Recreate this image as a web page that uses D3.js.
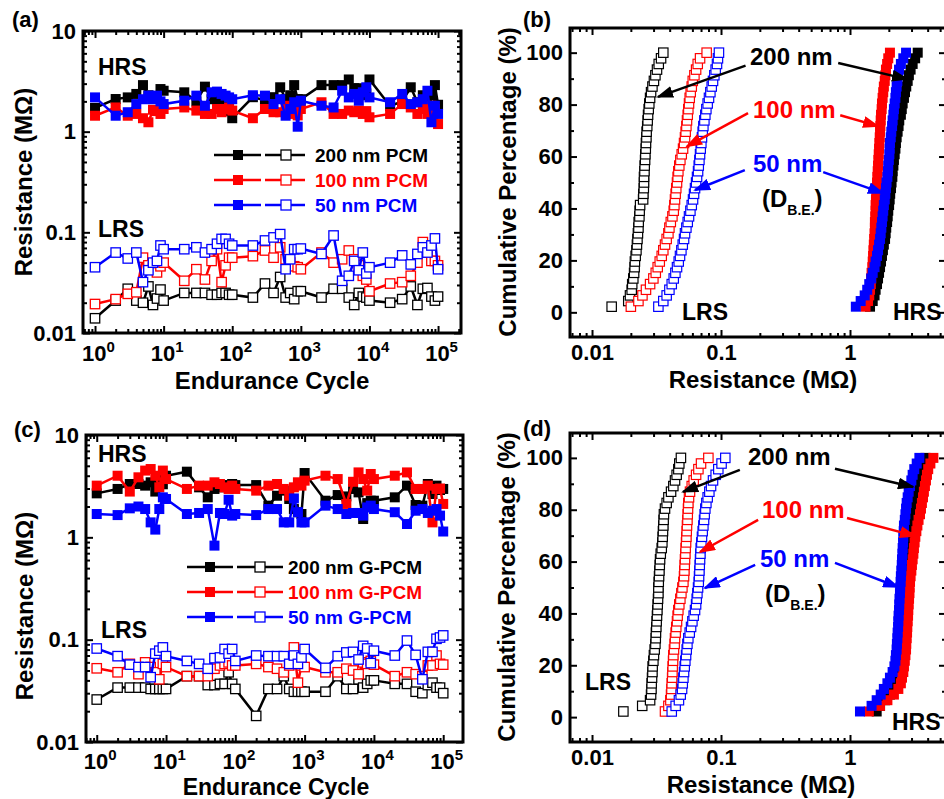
<!DOCTYPE html>
<html>
<head>
<meta charset="utf-8">
<script src="https://cdn.jsdelivr.net/npm/d3@7"></script>
<style>
  body { margin: 0; background: #fff; }
  svg text { font-family: "Liberation Sans", Arial, Helvetica, sans-serif; font-weight: bold; }
</style>
</head>
<body>
<div id="chart"></div>
<script>
// endurance cycles, x of panels (a) and (c)
var cycles = [1,2,3,4,5,6,7,8,9,10,20,30,40,50,60,70,80,90,100,200,300,400,500,600,700,800,900,1000,
  2000,3000,4000,5000,6000,7000,8000,9000,1e4,2e4,3e4,4e4,5e4,6e4,7e4,8e4,9e4,1e5];

// (a) PCM endurance, resistance in MOhm
var pcm200Hrs = [1.72,2.11,2.19,2.37,2.9,2.3,2.2,2.25,2.65,2.55, 2.46,2.0,2.8,2.1,2.05,1.9,1.75,1.6,1.36,
  2.2,2.05,2.2,2.76,2.1,2.3,2.9,2.1,2.1, 2.9,2.9,2.9,3.3,2.7,2.7,2.3,2.4,3.3, 1.8,2.0,2.76,1.96,2.3,2.0,2.3,2.9,1.85];
var pcm100Hrs = [1.44,1.74,1.44,1.5,1.36,1.24,1.65,1.6,1.5,1.68, 1.74,1.62,1.5,1.5,1.68,1.56,1.68,1.74,1.62,
  1.36,1.68,1.56,1.56,1.81,1.5,1.74,1.45,1.68, 1.96,1.5,1.5,1.62,1.56,1.62,1.5,1.6,1.39, 1.5,1.88,1.74,1.5,1.68,1.5,1.81,1.68,1.19];
var pcm50Hrs = [2.19,1.44,1.56,1.88,2.1,2.28,2.1,2.28,2.0,1.88, 2.03,2.28,1.81,2.46,2.5,2.37,2.28,2.19,2.1,
  2.3,2.28,1.88,2.1,1.44,1.68,1.96,1.12,2.03, 1.81,1.74,2.55,2.19,2.37,2.03,2.46,2.76,2.19, 1.96,2.37,1.88,1.96,2.1,2.55,1.24,1.81,1.5];
var pcm200Lrs = [0.014,0.021,0.0275,0.021,0.02,0.029,0.019,0.022,0.027,0.021, 0.025,0.025,0.025,0.024,0.024,0.025,0.025,0.024,0.024,
  0.0225,0.031,0.025,0.036,0.0225,0.025,0.0217,0.026,0.026, 0.0225,0.0275,0.0275,0.0225,0.019,0.025,0.023,0.0225,0.021,
  0.02,0.0217,0.029,0.019,0.0275,0.028,0.023,0.021,0.023];
var pcm100Lrs = [0.0194,0.0217,0.0245,0.0254,0.056,0.047,0.045,0.04,0.046,0.05, 0.033,0.043,0.034,0.052,0.068,0.032,0.047,0.056,0.056,
  0.058,0.066,0.056,0.071,0.054,0.05,0.046,0.045,0.043, 0.063,0.05,0.054,0.066,0.054,0.047,0.037,0.034,0.026,
  0.031,0.032,0.037,0.05,0.08,0.063,0.052,0.052,0.047];
var pcm50Lrs = [0.045,0.063,0.055,0.063,0.032,0.042,0.05,0.052,0.074,0.068, 0.068,0.071,0.063,0.068,0.077,0.086,0.086,0.077,0.074,
  0.074,0.083,0.089,0.096,0.043,0.054,0.068,0.068,0.069, 0.061,0.093,0.033,0.037,0.052,0.042,0.063,0.039,0.045,
  0.05,0.059,0.048,0.061,0.071,0.063,0.074,0.087,0.043];

// (c) G-PCM endurance
var gpcm200Hrs = [2.69,2.97,3.32,3.32,3.2,3.45,2.8,3.71,3.3,4.0, 4.38,3.08,2.46,2.97,3.08,3.2,3.24,3.32,3.24,
  3.24,2.04,2.55,2.86,2.37,1.89,1.76,1.69,4.25, 2.28,2.59,2.51,2.97,2.75,1.51,2.16,2.28,2.28, 2.46,3.2,2.07,2.04,3.32,2.65,3.2,2.9,2.97];
var gpcm100Hrs = [3.2,4.0,2.8,3.86,4.49,4.65,4.0,3.08,4.49,3.71, 2.97,3.2,3.2,3.45,3.32,3.08,2.97,3.2,2.97,
  2.86,3.2,3.32,2.97,2.55,3.08,3.45,3.2,3.58, 4.0,3.71,2.12,3.49,4.31,3.71,2.86,4.16,3.71, 4.0,4.31,2.97,2.97,3.2,1.4,2.97,3.0,2.12];
var gpcm50Hrs = [1.69,1.65,1.92,2.0,1.89,1.4,1.19,1.89,2.46,2.37, 1.69,1.73,1.89,0.83,1.73,1.69,2.33,1.63,1.69,
  1.65,1.89,1.89,1.4,1.4,2.4,1.76,1.4,1.4, 2.04,1.89,1.69,1.73,1.73,1.63,1.96,2.04,1.89, 1.76,1.35,1.82,1.89,1.73,1.82,1.89,1.63,1.14];
var gpcm200Lrs = [0.026,0.034,0.034,0.034,0.034,0.033,0.033,0.033,0.033,0.033, 0.044,0.044,0.036,0.036,0.037,0.037,0.048,0.037,0.033,
  0.018,0.033,0.033,0.044,0.033,0.031,0.031,0.031,0.031, 0.031,0.044,0.033,0.033,0.041,0.034,0.037,0.04,0.04,
  0.037,0.037,0.031,0.03,0.036,0.038,0.034,0.034,0.03];
var gpcm100Lrs = [0.0525,0.048,0.058,0.046,0.06,0.054,0.048,0.041,0.058,0.054, 0.044,0.044,0.044,0.052,0.056,0.058,0.06,0.056,0.056,
  0.058,0.054,0.052,0.048,0.056,0.084,0.038,0.056,0.054, 0.048,0.048,0.052,0.05,0.046,0.06,0.058,0.062,0.057,
  0.044,0.048,0.046,0.044,0.056,0.056,0.07,0.058,0.057];
var gpcm50Lrs = [0.082,0.069,0.057,0.054,0.054,0.043,0.073,0.078,0.084,0.069, 0.062,0.058,0.052,0.066,0.067,0.081,0.073,0.081,0.062,
  0.07,0.069,0.069,0.069,0.058,0.07,0.058,0.067,0.081, 0.053,0.069,0.075,0.076,0.064,0.087,0.082,0.059,0.078,
  0.07,0.098,0.071,0.041,0.076,0.076,0.102,0.105,0.11];

// (b) cumulative distributions, sorted resistance (MOhm)
var cdfB200Lrs = [0.0142,0.0191,0.0197,0.0203,0.0205,0.0209,0.0212,0.0214,0.0215,0.0218,0.0221,0.0223,0.0225,0.0227,0.0229,0.0230,
  0.0233,0.0234,0.0236,0.0249,0.0250,0.0252,0.0253,0.0253,0.0255,0.0256,0.0258,0.0259,0.0261,0.0262,0.0264,0.0265,0.0268,0.0270,
  0.0272,0.0275,0.0278,0.0282,0.0287,0.0294,0.0302,0.0310,0.0319,0.0329,0.0343,0.0357];
var cdfB100Lrs = [0.0200,0.0229,0.0246,0.0262,0.0282,0.0299,0.0312,0.0323,0.0335,0.0347,0.0357,0.0368,0.0379,0.0391,0.0398,0.0408,
  0.0420,0.0430,0.0435,0.0440,0.0445,0.0450,0.0456,0.0461,0.0467,0.0475,0.0484,0.0496,0.0508,0.0517,0.0526,0.0532,0.0539,0.0545,
  0.0552,0.0558,0.0565,0.0572,0.0582,0.0593,0.0604,0.0622,0.0641,0.0660,0.0688,0.0774];
var cdfB50Lrs = [0.0327,0.0357,0.0379,0.0398,0.0415,0.0430,0.0443,0.0456,0.0470,0.0481,0.0493,0.0505,0.0517,0.0526,0.0539,0.0552,
  0.0565,0.0579,0.0593,0.0607,0.0618,0.0629,0.0641,0.0652,0.0664,0.0672,0.0680,0.0688,0.0696,0.0704,0.0712,0.0721,0.0730,0.0743,
  0.0756,0.0770,0.0788,0.0807,0.0827,0.0847,0.0867,0.0888,0.0909,0.0931,0.0947,0.0964];
var cdfB200Hrs = [1.43,1.50,1.55,1.58,1.62,1.65,1.68,1.71,1.74,1.77,1.80,1.83,1.87,1.89,1.91,1.94,1.96,1.98,2.01,2.03,2.05,2.08,
  2.10,2.13,2.14,2.17,2.19,2.22,2.25,2.27,2.30,2.34,2.38,2.41,2.48,2.52,2.56,2.62,2.67,2.73,2.80,2.86,2.95,3.06,3.2,3.35];
var cdfB100Hrs = [1.32,1.38,1.41,1.43,1.45,1.46,1.47,1.49,1.50,1.51,1.52,1.53,1.54,1.55,1.56,1.56,1.57,1.58,1.58,1.59,1.60,1.61,
  1.62,1.63,1.64,1.65,1.66,1.67,1.68,1.69,1.70,1.71,1.72,1.73,1.74,1.76,1.77,1.79,1.81,1.83,1.86,1.88,1.90,1.94,1.98,2.04];
var cdfB50Hrs = [1.11,1.21,1.30,1.36,1.41,1.46,1.50,1.55,1.58,1.62,1.65,1.68,1.71,1.73,1.75,1.77,1.79,1.81,1.83,1.86,1.88,1.90,
  1.92,1.95,1.97,1.98,2.00,2.02,2.03,2.04,2.07,2.09,2.12,2.14,2.17,2.19,2.22,2.25,2.27,2.30,2.33,2.36,2.40,2.48,2.59,2.72];

// (d) cumulative distributions
var cdfD200Lrs = [0.0175,0.0245,0.0282,0.0287,0.0289,0.0290,0.0292,0.0294,0.0295,0.0299,0.0302,0.0306,0.0310,0.0312,0.0313,0.0315,
  0.0317,0.0319,0.0321,0.0323,0.0325,0.0327,0.0327,0.0329,0.0331,0.0333,0.0335,0.0337,0.0341,0.0347,0.0351,0.0353,0.0355,0.0357,
  0.0359,0.0361,0.0368,0.0379,0.0391,0.0410,0.0427,0.0440,0.0453,0.0467,0.0475,0.0489];
var cdfD100Lrs = [0.0368,0.0391,0.0405,0.0410,0.0413,0.0415,0.0418,0.0420,0.0422,0.0425,0.0427,0.0432,0.0437,0.0440,0.0445,0.0450,
  0.0456,0.0461,0.0467,0.0475,0.0484,0.0493,0.0502,0.0511,0.0517,0.0520,0.0523,0.0526,0.0529,0.0532,0.0536,0.0539,0.0542,0.0545,
  0.0549,0.0552,0.0555,0.0558,0.0565,0.0575,0.0593,0.0614,0.0641,0.0668,0.0700,0.0798];
var cdfD50Lrs = [0.0415,0.0445,0.0472,0.0487,0.0499,0.0505,0.0511,0.0517,0.0523,0.0529,0.0536,0.0542,0.0549,0.0558,0.0572,0.0586,
  0.0600,0.0614,0.0629,0.0641,0.0648,0.0656,0.0664,0.0672,0.0676,0.0680,0.0684,0.0688,0.0692,0.0696,0.0704,0.0712,0.0721,0.0730,
  0.0739,0.0747,0.0756,0.0770,0.0788,0.0812,0.0837,0.0867,0.0909,0.0953,0.101,0.108];
var cdfD200Hrs = [1.61,1.71,1.87,2.04,2.17,2.27,2.34,2.38,2.41,2.44,2.45,2.47,2.48,2.50,2.52,2.53,2.55,2.56,2.58,2.59,2.61,2.62,
  2.64,2.66,2.67,2.69,2.70,2.72,2.73,2.75,2.78,2.82,2.85,2.89,2.92,2.95,3.00,3.06,3.13,3.21,3.29,3.36,3.45,3.58,3.68,3.85];
var cdfD100Hrs = [1.40,1.71,1.95,2.19,2.37,2.48,2.53,2.59,2.62,2.66,2.69,2.72,2.73,2.75,2.77,2.78,2.80,2.82,2.83,2.85,2.87,2.89,
  2.90,2.92,2.95,2.99,3.02,3.06,3.10,3.13,3.17,3.21,3.27,3.33,3.40,3.49,3.55,3.61,3.68,3.74,3.81,3.88,3.95,4.04,4.20,4.43];
var cdfD50Hrs = [1.195,1.47,1.61,1.73,1.83,1.95,2.04,2.14,2.21,2.25,2.27,2.30,2.31,2.33,2.34,2.36,2.37,2.38,2.40,2.41,2.42,2.44,
  2.45,2.47,2.48,2.50,2.52,2.53,2.55,2.56,2.58,2.59,2.61,2.62,2.66,2.69,2.72,2.75,2.80,2.85,2.92,2.99,3.06,3.15,3.29,3.45];

// tick values and labels
var xMajorCycle = [1, 10, 100, 1000, 10000, 100000];
var yMajorRes = [0.01, 0.1, 1, 10];
var xMajorRes = [0.01, 0.1, 1];
var yMajorPct = [0, 20, 40, 60, 80, 100];
var yMinorPct = [10, 30, 50, 70, 90];
var legendA = ["200 nm PCM", "100 nm PCM", "50 nm PCM"];
var legendC = ["200 nm G-PCM", "100 nm G-PCM", "50 nm G-PCM"];
var sizeNames = ["200 nm", "100 nm", "50 nm"];

// arrows of panels (b) and (d): [resistance, percent] from text to curve
var arrowsB = [
  {c: 0, from: [0.155, 95], to: [0.0325, 83]}, {c: 0, from: [0.81, 96], to: [2.77, 89.8]},
  {c: 1, from: [0.162, 76.7], to: [0.0545, 63.9]}, {c: 1, from: [0.84, 75.9], to: [1.65, 71.7]},
  {c: 2, from: [0.153, 54.8], to: [0.0629, 47.1]}, {c: 2, from: [0.62, 54], to: [1.8, 45.9]}
];
var arrowsD = [
  {c: 0, from: [0.14, 95.4], to: [0.0508, 86.9]}, {c: 0, from: [0.765, 95.8], to: [3.08, 88.8]},
  {c: 1, from: [0.194, 76.1], to: [0.0687, 63.7]}, {c: 1, from: [0.948, 76.8], to: [3.19, 69.9]},
  {c: 2, from: [0.184, 58.7], to: [0.075, 49.8]}, {c: 2, from: [0.765, 59.5], to: [2.36, 50.2]}
];

var colors = ["#000000", "#ff0000", "#0000ff"];
var width = 944, height = 799;

var svg = d3.select("#chart").append("svg")
    .attr("width", width)
    .attr("height", height);

var defs = svg.append("defs");
colors.forEach(function(c, i) {
  defs.append("marker")
    .attr("id", "arrow" + i)
    .attr("viewBox", "0 0 17 12")
    .attr("refX", 15).attr("refY", 6)
    .attr("markerWidth", 17).attr("markerHeight", 12)
    .attr("markerUnits", "userSpaceOnUse")
    .attr("orient", "auto")
    .append("path").attr("d", "M0,0L17,6L0,12Z").attr("fill", c);
});

function logMinors(dom) {
  var out = [];
  for (var e = Math.floor(Math.log10(dom[0])); e <= Math.floor(Math.log10(dom[1])); e++) {
    for (var m = 2; m <= 9; m++) {
      var v = m * Math.pow(10, e);
      if (v > dom[0] && v < dom[1]) out.push(v);
    }
  }
  return out;
}

// inward ticks on all four sides; returns the labelled bottom and left groups
function drawAxes(p, x, y, xMaj, xMin, yMaj, yMin, xFmt, yFmt) {
  var g = svg.append("g");
  var sides = [
    [d3.axisBottom, x, xMaj, xMin, "translate(0," + p.b + ")", xFmt],
    [d3.axisTop, x, xMaj, xMin, "translate(0," + p.t + ")", null],
    [d3.axisLeft, y, yMaj, yMin, "translate(" + p.l + ",0)", yFmt],
    [d3.axisRight, y, yMaj, yMin, "translate(" + p.r + ",0)", null]
  ];
  var out = [];
  sides.forEach(function(s) {
    var a = g.append("g").attr("transform", s[4]);
    a.append("g").call(s[0](s[1]).tickValues(s[3]).tickSize(-4).tickFormat(""));
    var m = a.append("g").call(s[0](s[1]).tickValues(s[2]).tickSize(-7).tickPadding(7)
      .tickFormat(s[5] ? s[5] : function() { return ""; }));
    a.selectAll(".domain").remove();
    a.selectAll("line").attr("stroke-width", 2);
    m.selectAll("text").attr("font-size", 22).attr("fill", "#000");
    if (s[5]) out.push(m);
  });
  svg.append("rect")
    .attr("x", p.l).attr("y", p.t)
    .attr("width", p.r - p.l).attr("height", p.b - p.t)
    .attr("fill", "none").attr("stroke", "#000").attr("stroke-width", 3);
  return out;
}

function addText(t, x, y, size, color, anchor) {
  return svg.append("text").attr("x", x).attr("y", y)
    .attr("font-size", size).attr("fill", color || "#000")
    .attr("text-anchor", anchor || "start").text(t);
}

function addVTitle(t, x, y) {
  svg.append("text").attr("transform", "translate(" + x + "," + y + ") rotate(-90)")
    .attr("text-anchor", "middle").attr("font-size", 24).attr("fill", "#000").text(t);
}

function endurancePanel(p, sets, names, lg) {
  var x = d3.scaleLog().domain(p.xDom).range([p.l, p.r]);
  var y = d3.scaleLog().domain([0.01, 10]).range([p.b, p.t]);
  var line = d3.line()
    .x(function(d, i) { return x(cycles[i]); })
    .y(function(d) { return y(d); });
  var g = svg.append("g");
  sets.forEach(function(s, k) {
    s.forEach(function(vals, j) {
      g.append("path").datum(vals).attr("d", line)
        .attr("fill", "none").attr("stroke", colors[k]).attr("stroke-width", 2.5);
      g.selectAll(null).data(vals).enter().append("rect")
        .attr("x", function(d, i) { return x(cycles[i]) - (j ? 4.7 : 5); })
        .attr("y", function(d) { return y(d) - (j ? 4.7 : 5); })
        .attr("width", j ? 9.4 : 10).attr("height", j ? 9.4 : 10)
        .attr("fill", j ? "#fff" : colors[k])
        .attr("stroke", j ? colors[k] : "none").attr("stroke-width", 1.3);
    });
  });

  // legend
  names.forEach(function(n, k) {
    var yy = lg.y + k * 25;
    [[lg.a0, lg.a1, lg.s0, true], [lg.b0, lg.b1, lg.s1, false]].forEach(function(seg) {
      svg.append("line").attr("x1", seg[0]).attr("x2", seg[1]).attr("y1", yy).attr("y2", yy)
        .attr("stroke", colors[k]).attr("stroke-width", 2.5);
      svg.append("rect").attr("x", seg[2] - 5).attr("y", yy - 5).attr("width", 10).attr("height", 10)
        .attr("fill", seg[3] ? colors[k] : "#fff")
        .attr("stroke", seg[3] ? "none" : colors[k]).attr("stroke-width", 1.3);
    });
    addText(n, lg.tx, yy + 7, 19, colors[k]);
  });

  var axes = drawAxes(p, x, y, xMajorCycle, logMinors(p.xDom), yMajorRes, logMinors([0.01, 10]),
    function(d) { return d; }, function(d) { return String(d); });
  axes[0].selectAll(".tick text").text(null)
    .attr("y", p.lab).attr("dy", null).attr("dx", 3)
    .each(function(d) {
      var t = d3.select(this);
      t.append("tspan").text("10");
      t.append("tspan").attr("dy", -9).attr("font-size", 15).text(Math.round(Math.log10(d)));
    });
}

function cdfPanel(p, sets, arrows) {
  var x = d3.scaleLog().domain(p.xDom).range([p.l, p.r]);
  var y = d3.scaleLinear().domain(p.yDom).range([p.b, p.t]);
  var g = svg.append("g");
  [1, 0].forEach(function(j) {
    sets.forEach(function(s, k) {
      var vals = s[j], n = vals.length;
      g.selectAll(null).data(vals).enter().append("rect")
        .attr("x", function(d) { return x(d) - (j ? 4.7 : 5); })
        .attr("y", function(d, i) { return y((i + 1) / n * 100) - (j ? 4.7 : 5); })
        .attr("width", j ? 9.4 : 10).attr("height", j ? 9.4 : 10)
        .attr("fill", j ? "#fff" : colors[k])
        .attr("stroke", j ? colors[k] : "none").attr("stroke-width", 1.2);
    });
  });
  arrows.forEach(function(a) {
    svg.append("line")
      .attr("x1", x(a.from[0])).attr("y1", y(a.from[1]))
      .attr("x2", x(a.to[0])).attr("y2", y(a.to[1]))
      .attr("stroke", colors[a.c]).attr("stroke-width", 2.5)
      .attr("marker-end", "url(#arrow" + a.c + ")");
  });
  drawAxes(p, x, y, xMajorRes, logMinors(p.xDom), yMajorPct, yMinorPct,
    function(d) { return String(d); }, function(d) { return d; });
}

function dbe(x, y) {
  var t = svg.append("text").attr("x", x).attr("y", y).attr("font-size", 24).attr("fill", "#000");
  t.append("tspan").text("(D");
  t.append("tspan").attr("dy", 8).attr("font-size", 14).text("B.E.");
  t.append("tspan").attr("dy", -8).text(")");
}

// (a)
endurancePanel({l: 83, r: 461, t: 31, b: 333, xDom: [0.668, 2.16e5], lab: 28},
  [[pcm200Hrs, pcm200Lrs], [pcm100Hrs, pcm100Lrs], [pcm50Hrs, pcm50Lrs]], legendA,
  {y: 155, a0: 214, a1: 261, s0: 238, b0: 265, b1: 305, s1: 286, tx: 315});
addText("HRS", 98, 75, 23);
addText("LRS", 98, 237, 23);
addText("(a)", 12, 27, 22);
addVTitle("Resistance (M\u03A9)", 32, 182);
addText("Endurance Cycle", 272, 389, 24, "#000", "middle");

// (c)
endurancePanel({l: 86, r: 463, t: 435, b: 742, xDom: [0.70, 1.93e5], lab: 27},
  [[gpcm200Hrs, gpcm200Lrs], [gpcm100Hrs, gpcm100Lrs], [gpcm50Hrs, gpcm50Lrs]], legendC,
  {y: 567, a0: 187, a1: 233, s0: 210, b0: 237, b1: 283, s1: 260, tx: 288});
addText("HRS", 98, 462, 23);
addText("LRS", 101, 638, 23);
addText("(c)", 14, 437, 22);
addVTitle("Resistance (M\u03A9)", 33, 606);
addText("Endurance Cycle", 276, 795, 23, "#000", "middle");

// (b)
cdfPanel({l: 570, r: 946, t: 28, b: 337, xDom: [0.00675, 5.55], yDom: [-9.5, 109.5]},
  [[cdfB200Hrs, cdfB200Lrs], [cdfB100Hrs, cdfB100Lrs], [cdfB50Hrs, cdfB50Lrs]], arrowsB);
addText(sizeNames[0], 750, 65, 24, colors[0]);
addText(sizeNames[1], 753, 118, 24, colors[1]);
addText(sizeNames[2], 753, 172, 24, colors[2]);
dbe(762, 207);
addText("LRS", 682, 320, 23);
addText("HRS", 893, 320, 23);
addText("(b)", 523, 27, 22);
addVTitle("Cumulative Percentage (%)", 516, 182);
addText("Resistance (M\u03A9)", 763, 388, 24, "#000", "middle");

// (d)
cdfPanel({l: 570, r: 946, t: 433, b: 742, xDom: [0.00675, 5.55], yDom: [-9.6, 109.6]},
  [[cdfD200Hrs, cdfD200Lrs], [cdfD100Hrs, cdfD100Lrs], [cdfD50Hrs, cdfD50Lrs]], arrowsD);
addText(sizeNames[0], 748, 465, 24, colors[0]);
addText(sizeNames[1], 762, 518, 24, colors[1]);
addText(sizeNames[2], 760, 567, 24, colors[2]);
dbe(765, 602);
addText("LRS", 585, 690, 23);
addText("HRS", 892, 730, 23);
addText("(d)", 523, 436, 22);
addVTitle("Cumulative Percentage (%)", 515, 587);
addText("Resistance (M\u03A9)", 761, 793, 24, "#000", "middle");
</script>
</body>
</html>
